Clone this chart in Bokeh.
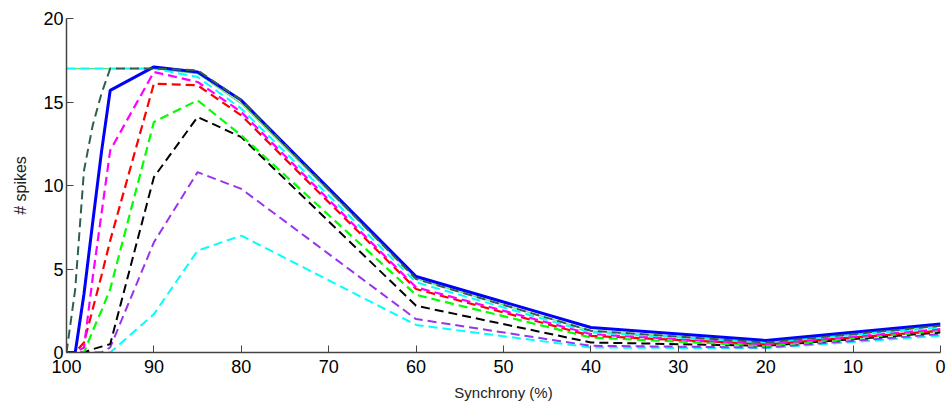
from bokeh.plotting import figure
from bokeh.embed import file_html
from bokeh.resources import INLINE
from bokeh.models import FixedTicker, Range1d

synchrony = [100, 99, 98, 97, 96, 95, 90, 85, 80, 60, 40, 20, 0]

dark_green = [0, 3.8, 10.9, 13.6, 15.5, 17.0, 17.0, 16.9, 15.1, 4.4, 1.3, 0.6, 1.6]
blue = [0, 0, 3.5, 7.8, 12.0, 15.7, 17.1, 16.8, 15.1, 4.55, 1.5, 0.72, 1.7]
magenta = [0, 0, 0.3, 4.5, 8.3, 12.1, 16.8, 16.2, 14.4, 3.9, 1.1, 0.5, 1.4]
red = [0, 0, 0.6, 2.6, 4.6, 6.7, 16.1, 16.0, 14.2, 3.8, 1.0, 0.5, 1.3]
green = [0, 0, 0, 1.3, 2.5, 3.8, 13.8, 15.1, 13.0, 3.45, 0.9, 0.4, 1.3]
black = [0, 0, 0, 0.2, 0.35, 0.5, 10.5, 14.1, 12.9, 2.8, 0.6, 0.4, 1.2]
purple = [0, 0, 0, 0, 0, 0.3, 6.6, 10.8, 9.8, 2.0, 0.4, 0.3, 1.1]
cyan_low = [0, 0, 0, 0, 0, 0, 2.3, 6.1, 7.0, 1.65, 0.3, 0.25, 1.0]
cyan_top = [17, 17, 17, 17, 17, 17, 17.0, 16.5, 14.6, 4.2, 1.2, 0.6, 1.5]
light_green = [17, 17, 17, 17, 17, 17, 17.0, 16.7, 14.9, 4.4, 1.3, 0.6, 1.6]

x_ticks = [100, 90, 80, 70, 60, 50, 40, 30, 20, 10, 0]
y_ticks = [0, 5, 10, 15, 20]

FONT = "Liberation Sans"

p = figure(width=948, height=403, output_backend="svg", toolbar_location=None,
           x_range=Range1d(100, 0), y_range=Range1d(0, 20),
           min_border_left=66, min_border_right=8, min_border_top=18, min_border_bottom=48)
p.outline_line_color = None
p.grid.visible = False
p.background_fill_color = "white"

DASH = "9 5"
p.line(synchrony, cyan_low, line_color="#00FFFF", line_width=2, line_dash=DASH)
p.line(synchrony, purple, line_color="#9933EE", line_width=2, line_dash=DASH)
p.line(synchrony, black, line_color="#000000", line_width=2, line_dash=DASH)
p.line(synchrony, green, line_color="#00FF00", line_width=2.2, line_dash=DASH)
p.line(synchrony, red, line_color="#FF0000", line_width=2.2, line_dash=DASH)
p.line(synchrony, magenta, line_color="#FF00FF", line_width=2.2, line_dash=DASH)
p.line(synchrony, light_green, line_color="#66DD66", line_width=1.2)
p.line(synchrony, cyan_top, line_color="#00FFFF", line_width=2, line_dash=DASH)
p.line(synchrony, blue, line_color="#0000FF", line_width=3)
p.line(synchrony, dark_green, line_color="#2F5F4F", line_width=2, line_dash=DASH)

for ax in (p.xaxis[0], p.yaxis[0]):
    ax.axis_line_color = "#444444"
    ax.axis_line_width = 1.5
    ax.major_tick_line_color = "#444444"
    ax.major_tick_in = 7
    ax.major_tick_out = 0
    ax.minor_tick_line_color = None
    ax.major_label_text_font = FONT
    ax.major_label_text_font_size = "18px"
    ax.major_label_text_color = "#000000"
    ax.axis_label_text_font = FONT
    ax.axis_label_text_font_style = "normal"
    ax.axis_label_text_color = "#222222"

p.xaxis.axis_label_text_font_size = "15px"
p.yaxis.axis_label_text_font_size = "16px"
p.xaxis.ticker = FixedTicker(ticks=x_ticks)
p.yaxis.ticker = FixedTicker(ticks=y_ticks)
p.xaxis.axis_label = "Synchrony (%)"
p.yaxis.axis_label = "# spikes"
p.xaxis.major_label_standoff = 7
p.yaxis.major_label_standoff = 3
p.xaxis.axis_label_standoff = 8
p.yaxis.axis_label_standoff = 11

open("out.html", "w").write(file_html(p, INLINE))
